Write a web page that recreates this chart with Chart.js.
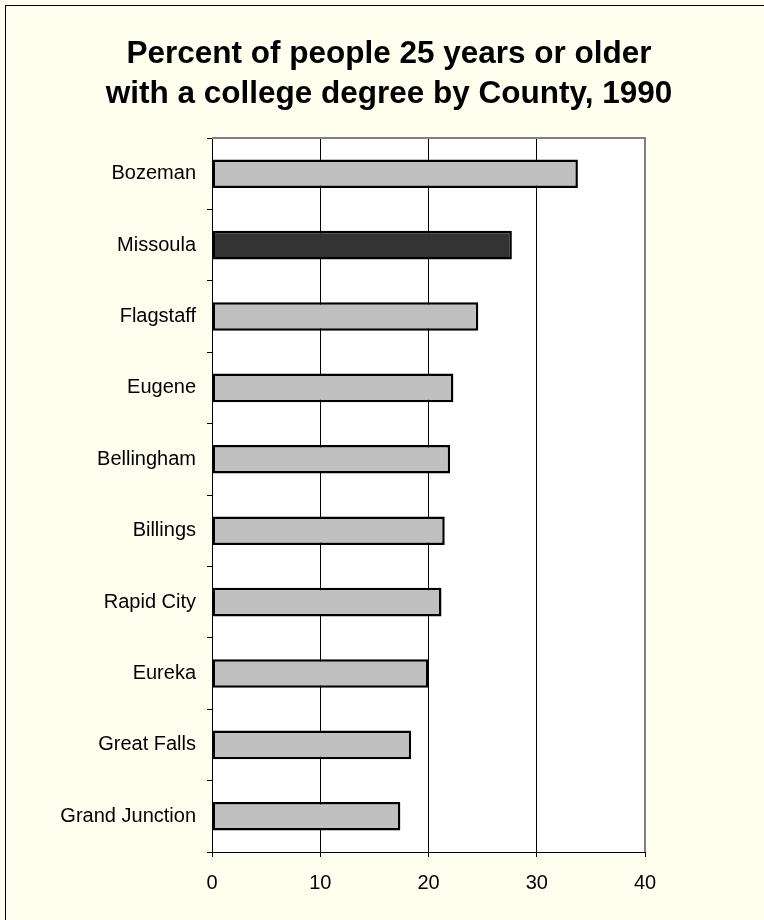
<!DOCTYPE html>
<html>
<head>
<meta charset="utf-8">
<title>College degree by county, 1990</title>
<script src="https://cdn.jsdelivr.net/npm/chart.js@4.4.1/dist/chart.umd.min.js"></script>
<style>
  html, body { margin: 0; padding: 0; background: #fff; }
  #wrap { width: 764px; height: 920px; }
</style>
</head>
<body>
<div id="wrap"><canvas id="degreeChart" width="764" height="920"></canvas></div>
<script>
// data
const cities = ["Bozeman", "Missoula", "Flagstaff", "Eugene", "Bellingham",
  "Billings", "Rapid City", "Eureka", "Great Falls", "Grand Junction"];
const percents = [33.8, 27.7, 24.6, 22.3, 22.0, 21.5, 21.2, 20.0, 18.4, 17.4];
const highlight = "Missoula";
const xTicks = [0, 10, 20, 30, 40];
const titleLines = ["Percent of people 25 years or older", "with a college degree by County, 1990"];

const FONT = "'Liberation Sans', Arial, sans-serif";

// background, outer frame, plot fill and the two-line title
const frame = {
  id: "frame",
  beforeDraw(chart) {
    const { ctx, chartArea: a } = chart;
    ctx.save();
    ctx.fillStyle = "#FFFFF0";
    ctx.fillRect(0, 0, chart.width, chart.height);
    ctx.strokeStyle = "#000";
    ctx.lineWidth = 1;
    ctx.strokeRect(5.5, 5.5, 800, 950);
    ctx.fillStyle = "#fff";
    ctx.fillRect(a.left, a.top, a.right - a.left, a.bottom - a.top);

    ctx.fillStyle = "#000";
    ctx.font = "bold 31.5px " + FONT;
    ctx.textAlign = "center";
    ctx.textBaseline = "alphabetic";
    titleLines.forEach((t, i) => ctx.fillText(t, 389, 63 + i * 40));
    ctx.restore();
  },
  afterDraw(chart) {
    const { ctx, chartArea: a } = chart;
    ctx.save();
    ctx.strokeStyle = "#808080";
    ctx.lineWidth = 2;
    ctx.beginPath();
    ctx.moveTo(a.left, a.top);
    ctx.lineTo(a.right, a.top);
    ctx.lineTo(a.right, a.bottom);
    ctx.stroke();
    ctx.restore();
  }
};

new Chart(document.getElementById("degreeChart"), {
  type: "bar",
  data: {
    labels: cities,
    datasets: [{
      data: percents,
      backgroundColor: cities.map(c => c === highlight ? "#333333" : "#C0C0C0"),
      borderColor: "#000",
      borderWidth: 2.5,
      borderSkipped: false,
      categoryPercentage: 0.8,
      barPercentage: 0.5
    }]
  },
  options: {
    indexAxis: "y",
    responsive: false,
    animation: false,
    layout: { padding: { left: 0, right: 119, top: 138, bottom: 0 } },
    plugins: {
      legend: { display: false },
      tooltip: { enabled: false },
      title: { display: false }
    },
    scales: {
      x: {
        min: xTicks[0],
        max: xTicks[xTicks.length - 1],
        afterBuildTicks: (s) => { s.ticks = xTicks.map(v => ({ value: v })); },
        afterFit: (s) => { s.height = 68; },
        ticks: { color: "#000", font: { family: FONT, size: 20 }, padding: 14 },
        grid: {
          color: (c) => c.tick && c.tick.value === 40 ? "#808080" : "#000",
          tickColor: "#000",
          tickLength: 5,
          lineWidth: 1
        },
        border: { color: "#000", width: 1 }
      },
      y: {
        afterFit: (s) => { s.width = 212; },
        ticks: { color: "#000", font: { family: FONT, size: 20 }, padding: 11 },
        grid: { drawOnChartArea: false, tickLength: 5, tickColor: "#000" },
        border: { color: "#000", width: 1 }
      }
    }
  },
  plugins: [frame]
});
</script>
</body>
</html>
